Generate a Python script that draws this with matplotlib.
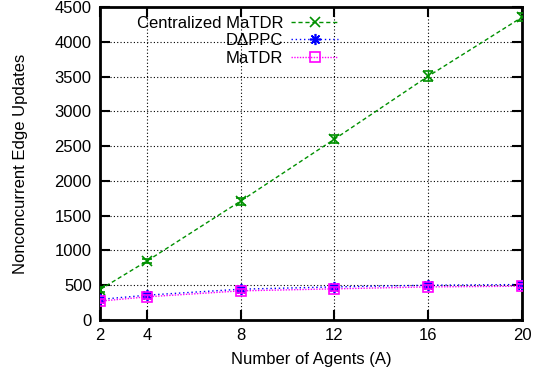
import matplotlib
matplotlib.use("Agg")
import matplotlib.pyplot as plt
from matplotlib.lines import Line2D
from matplotlib.ticker import MultipleLocator

plt.rcParams['font.family'] = ['Liberation Sans', 'DejaVu Sans']

agents = [2, 4, 8, 12, 16, 20]
centralized = [438, 847, 1710, 2600, 3505, 4353]
centralized_err = [40, 30, 50, 60, 70, 60]
dappc = [296, 357, 443, 476, 500, 510]
dappc_err = [30, 25, 30, 30, 30, 30]
matdr = [271, 333, 419, 448, 476, 486]
matdr_err = [25, 25, 25, 25, 25, 25]

fig = plt.figure(figsize=(5.38, 3.77), dpi=100)
ax = fig.add_axes([100/538, 1-320/377, 422/538, 313/377])

green = '#009000'
styles = [
    dict(y=centralized, err=centralized_err, color=green, ls=(0, (3, 2)), marker='x', ms=7.5,
         mfc=green, label='Centralized MaTDR'),
    dict(y=dappc, err=dappc_err, color='#0000ff', ls=(0, (1, 2)), marker=(8, 2, 0), ms=8,
         mfc='#0000ff', label='D\u0394PPC'),
    dict(y=matdr, err=matdr_err, color='#ff00ff', ls=(0, (1, 1)), marker='s', ms=7,
         mfc='none', label='MaTDR'),
]

handles = []
for z, st in enumerate(styles):
    ax.errorbar(agents, st['y'], yerr=st['err'], color=st['color'], ls=st['ls'], lw=1,
                marker=st['marker'], ms=st['ms'], mfc=st['mfc'], mew=1.2, capsize=3.5,
                elinewidth=1, capthick=1, zorder=3 + z)
    handles.append(Line2D([], [], color=st['color'], ls=st['ls'], lw=1, marker=st['marker'],
                          ms=st['ms'], mfc=st['mfc'], mew=1.2, label=st['label']))

ax.set_xlim(2, 20)
ax.set_ylim(0, 4500)
ax.set_xticks(agents)
ax.yaxis.set_major_locator(MultipleLocator(500))
ax.tick_params(direction='in', length=7, width=1.5, top=True, right=True, labelsize=12, pad=6)
ax.grid(True, color='black', ls=(0, (1, 2)), lw=0.8)
for s in ax.spines.values():
    s.set_linewidth(2)

ax.set_xlabel('Number of Agents (A)', fontsize=12, labelpad=6)
ax.set_ylabel('Nonconcurrent Edge Updates', fontsize=12, labelpad=19)

leg = ax.legend(handles=handles, loc='upper right', bbox_to_anchor=(0.564, 0.972),
                markerfirst=False, frameon=False, fontsize=12, handlelength=2.8,
                labelspacing=0.15, borderaxespad=0.0, borderpad=0.0, handletextpad=0.5)
leg.set_zorder(10)

fig.savefig('out.png', dpi=100)
